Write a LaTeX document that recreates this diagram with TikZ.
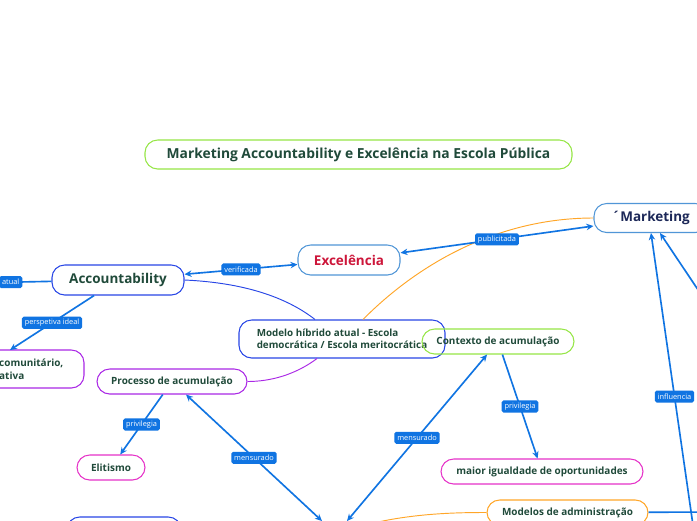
\documentclass[tikz,border=0pt]{standalone}
\usepackage{fontspec}
\setmainfont{Open Sans}
\usetikzlibrary{arrows.meta}
\definecolor{linkblue}{RGB}{16,116,226}
\definecolor{textgreen}{RGB}{32,74,58}
\definecolor{limeborder}{RGB}{150,230,70}
\definecolor{skyborder}{RGB}{80,150,215}
\definecolor{royalborder}{RGB}{40,70,230}
\definecolor{violetborder}{RGB}{170,40,230}
\definecolor{pinkborder}{RGB}{230,50,200}
\definecolor{orangeborder}{RGB}{255,166,40}
\definecolor{excelred}{RGB}{205,22,58}
\definecolor{marknavy}{RGB}{28,40,88}
\tikzset{
  topic/.style={draw, fill=white, line width=0.9pt, rounded corners=0.38cm, inner sep=0pt,
    minimum height=0.75cm, text=textgreen, font=\fontsize{8.5}{10}\selectfont\bfseries},
  big topic/.style={topic, minimum height=0.9cm, font=\fontsize{11.5}{14}\selectfont\bfseries},
  link line/.style={line width=1.4pt, linkblue},
  link label/.style={fill=linkblue, text=white, rounded corners=1.5pt, inner xsep=2.5pt, inner ysep=2pt,
    minimum height=0.36cm, font=\fontsize{6.3}{7}\selectfont},
  thin curve/.style={line width=0.8pt},
  >={Stealth[length=6pt,width=5.5pt]},
}

\begin{document}
\begin{tikzpicture}[x=0.03cm, y=-0.03cm]
  \clip (0,0) rectangle (697,520);
  \fill[white] (0,0) rectangle (697,520);

  \node[topic, draw=limeborder, minimum width=12.81cm, minimum height=0.87cm,
    font=\fontsize{11.8}{14}\selectfont\bfseries] (title) at (358.5,154.5)
    {Marketing Accountability e Excelência na Escola Pública};
  \node[big topic, draw=skyborder, text=marknavy, minimum width=3.42cm, minimum height=0.87cm] (marketing) at (651,218) {´Marketing};
  \node[big topic, draw=skyborder, text=excelred, minimum width=3.06cm] (excelencia) at (349,260) {Excelência};
  \node[big topic, draw=royalborder, minimum width=3.96cm] (accountability) at (118,280) {Accountability};
  \node[topic, draw=royalborder, minimum width=6.18cm, minimum height=1.14cm, align=left,
    font=\fontsize{8.4}{10.5}\selectfont\bfseries] (modelo) at (342,339)
    {Modelo híbrido atual - Escola\\democrática / Escola meritocrática};
  \node[topic, draw=limeborder, fill=none, minimum width=4.56cm] (contexto) at (498,341.5) {Contexto de acumulação};
  \node[topic, draw=violetborder, minimum width=4.5cm] (processo) at (172,381.5) {Processo de acumulação};
  \node[topic, draw=pinkborder, minimum width=2.04cm] (elitismo) at (111,467.5) {Elitismo};
  \node[topic, draw=pinkborder, minimum width=6.06cm] (igualdade) at (542,471.5) {maior igualdade de oportunidades};
  \node[topic, draw=orangeborder, minimum width=4.83cm] (modelos) at (567.5,512.5) {Modelos de administração};
  \node[topic, draw=royalborder, minimum width=3.42cm] (baixo) at (124,529.5) {};

  % box cut by the left edge
  \draw[violetborder, fill=white, line width=0.9pt, rounded corners=0.38cm] (-90,350) rectangle (84,388);
  \node[anchor=west, align=left, inner sep=0pt, text=textgreen, font=\fontsize{8.5}{11}\selectfont\bfseries]
    (comunitario) at (-1,369) {comunitário,\\ativa};
  \coordinate (comTop) at (10,350);

  \coordinate (atualEnd) at (-30,283);
  \coordinate (hubA) at (322,521);
  \coordinate (hubB) at (347,521);
  \coordinate (hubC) at (378,522);
  \coordinate (inflStart) at (698,560);
  \coordinate (rightStart) at (735,345);
  \coordinate (modelosEnd) at (720,512);

  \draw[thin curve, royalborder] (accountability.east) .. controls (250,283) and (290,300) .. ([xshift=-0.81cm]modelo.north);
  \draw[thin curve, orangeborder] ([xshift=0.63cm]modelo.north) .. controls (420,262) and (500,218) .. (marketing.west);
  \draw[thin curve, violetborder] ([xshift=-0.75cm]modelo.south) .. controls (295,375) and (270,381.5) .. (processo.east);
  \draw[thin curve, orangeborder] (hubC) .. controls (420,513) and (460,512.5) .. (modelos.west);

  \draw[link line, <->] (accountability) -- (excelencia) node[link label, midway] {verificada};
  \draw[link line, <->] (excelencia) -- (marketing) node[link label, midway] {publicitada};
  \draw[link line] (accountability) -- (atualEnd) node[link label, pos=0.5] {atual};
  \draw[link line, ->] (accountability) -- (comTop) node[link label, midway] {perspetiva ideal};
  \draw[link line, ->] (processo) -- (elitismo) node[link label, midway] {privilegia};
  \draw[link line, <->] (processo) -- (hubA) node[link label, midway] {mensurado};
  \draw[link line, <->] (contexto) -- (hubB) node[link label, midway] {mensurado};
  \draw[link line, ->] (contexto) -- (igualdade) node[link label, midway] {privilegia};
  \draw[link line, ->] (inflStart) -- (marketing.south) node[link label, pos=0.5] {influencia};
  \draw[link line, ->] (rightStart) -- ([xshift=0.27cm]marketing.south);
  \draw[link line] (modelos) -- (modelosEnd);
\end{tikzpicture}
\end{document}
